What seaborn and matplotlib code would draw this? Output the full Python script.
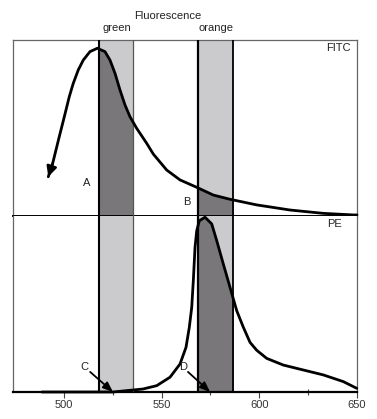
import matplotlib
matplotlib.use("Agg")
import matplotlib.pyplot as plt
import seaborn as sns
import pandas as pd

sns.set_theme(style="white")
plt.rcParams['font.family'] = ['Liberation Sans', 'DejaVu Sans']

# --- data ---
fitc_wl = [491.96, 494.21, 495.90, 497.59, 499.33, 501.02, 502.71, 504.76, 507.32,
           509.88, 513.31, 517.05, 520.99, 523.55, 526.11, 528.67, 531.23, 533.79,
           537.22, 542.34, 545.72, 552.59, 559.40, 567.95, 576.45, 584.99, 598.67,
           615.72, 632.77, 648.13, 650.0]
fitc_val = [22.3, 29.9, 37.5, 45.1, 52.7, 60.2, 67.8, 75.4, 83.0,
            88.6, 93.4, 95.3, 93.4, 88.6, 81.1, 71.6, 63.1, 56.4,
            49.8, 41.3, 35.2, 26.1, 20.5, 16.3, 11.9, 9.5, 6.3,
            3.4, 1.5, 0.6, 0.6]

pe_wl = [488.7, 525.09, 540.45, 547.47, 554.28, 559.40, 562.47, 564.16, 565.39,
         566.21, 567.08, 567.95, 569.28, 572.20, 575.63, 578.19, 581.57, 584.99,
         588.43, 591.81, 595.24, 598.67, 603.79, 612.29, 622.53, 632.77, 643.01,
         649.87]
pe_val = [0.0, 0.0, 1.7, 3.6, 8.4, 15.9, 25.4, 36.8, 48.1,
          63.2, 82.2, 91.6, 97.3, 99.3, 95.5, 86.0, 72.7, 59.5,
          46.2, 36.8, 28.2, 23.7, 19.1, 15.3, 12.5, 9.7, 5.9,
          2.1]

green_band = (517.7, 535.4)
orange_band = (568.4, 586.4)
xticks_major = [500, 550, 600, 650]
xticks_minor = [525, 575, 625]

W, H = 377, 419
fig = plt.figure(figsize=(W / 100, H / 100), dpi=100)
fig.patch.set_facecolor('white')

L, R = 13 / W, 357 / W
top_ax = fig.add_axes([L, 1 - 216 / H, R - L, 176 / H])
bot_ax = fig.add_axes([L, 1 - 392 / H, R - L, 176 / H])

LIGHT = '#cbcacd'
DARK = '#79777a'
XLIM = (473.9, 650.0)

fitc = pd.DataFrame({'wl': fitc_wl, 'val': fitc_val})
pe = pd.DataFrame({'wl': pe_wl, 'val': pe_val})

for ax, df in ((top_ax, fitc), (bot_ax, pe)):
    ax.set_xlim(*XLIM)
    ax.set_ylim(0, 100)
    spans = []
    for band in (green_band, orange_band):
        sp = ax.axvspan(band[0], band[1], color=LIGHT, lw=0, zorder=1)
        spans.append(sp)
    for sp in spans:
        fb = ax.fill_between(df['wl'], 0, df['val'], color=DARK, lw=0, zorder=2)
        fb.set_clip_path(sp)
    # band edges
    ax.axvline(green_band[0], color='black', lw=1.5, zorder=3)
    ax.axvline(green_band[1], color='#555555', lw=0.9, zorder=3)
    ax.axvline(orange_band[0], color='black', lw=1.6, zorder=3)
    ax.axvline(orange_band[1], color='black', lw=1.3, zorder=3)
    sns.lineplot(data=df, x='wl', y='val', ax=ax, color='black', lw=2.0,
                 zorder=5, clip_on=False, sort=False)
    ax.lines[-1].set_solid_joinstyle('round')
    ax.lines[-1].set_solid_capstyle('round')
    ax.set_xlabel('')
    ax.set_ylabel('')
    ax.set_yticks([])
    for s in ax.spines.values():
        s.set_color('#666666')
        s.set_linewidth(0.9)

# arrowhead at start of FITC curve
top_ax.annotate('', xy=(fitc_wl[0], fitc_val[0]), xytext=(fitc_wl[1], fitc_val[1]),
                arrowprops=dict(arrowstyle='-|>,head_length=0.5,head_width=0.25',
                                color='black', lw=1.8, shrinkA=0, shrinkB=0), zorder=6)

top_ax.set_xticks([])
top_ax.spines['bottom'].set_color('black')
top_ax.spines['bottom'].set_linewidth(1.4)
bot_ax.spines['top'].set_visible(False)
bot_ax.spines['bottom'].set_color('black')
bot_ax.spines['bottom'].set_linewidth(1.6)

bot_ax.set_xticks(xticks_major)
bot_ax.set_xticks(xticks_minor, minor=True)
bot_ax.set_xticklabels([str(t) for t in xticks_major])
bot_ax.tick_params(axis='x', which='major', direction='out', length=4, width=0.8,
                   color='#444444', labelsize=8, pad=1.5, labelcolor='#333333', bottom=True)
bot_ax.tick_params(axis='x', which='minor', direction='inout', length=5, width=0.8,
                   color='#444444', bottom=True)

# C and D arrows
for tip, tail in (((525.1, 0.0), (513.4, 11.4)), ((574.8, 0.0), (563.5, 11.4))):
    bot_ax.annotate('', xy=tip, xytext=tail,
                    arrowprops=dict(arrowstyle='-|>,head_length=0.5,head_width=0.2',
                                    color='black', lw=1.3, shrinkA=0, shrinkB=0),
                    zorder=6, annotation_clip=False)

def ftxt(x, y, s, ha='center', size=8):
    fig.text(x / W, 1 - y / H, s, ha=ha, va='center', fontsize=size, color='#222222')

ftxt(168, 16, 'Fluorescence')
ftxt(117, 28, 'green')
ftxt(216, 28, 'orange')
ftxt(351, 48, 'FITC', ha='right')
ftxt(335, 224, 'PE')
ftxt(87, 183, 'A')
ftxt(187, 202, 'B')
ftxt(84, 367, 'C')
ftxt(183, 367, 'D')

fig.savefig('out.png', dpi=100)
